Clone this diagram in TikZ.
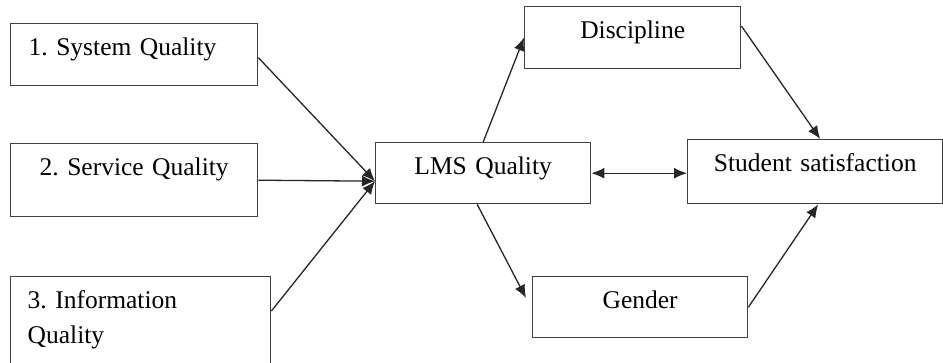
\documentclass[tikz,border=0pt]{standalone}
\usepackage{fontspec}
\setmainfont{Liberation Serif}
\usetikzlibrary{arrows.meta}
\frenchspacing

\begin{document}
\begin{tikzpicture}[x=1pt, y=-1pt,
    >={Latex[length=13pt,width=11pt]},
    every node/.style={rectangle, draw=black!75, line width=1.4pt, anchor=north west,
      inner xsep=0pt, inner ysep=0pt, text height=32pt,
      font=\fontsize{25.5}{35}\selectfont},
    link/.style={->, line width=1.3pt, draw=black!85},
    twoway/.style={<->, line width=1.3pt, draw=black!85}]
  \useasboundingbox (0,0) rectangle (943,362);
  \clip (0,0) rectangle (943,362);
  \node (sys) [text width=211pt, inner xsep=18pt, text depth=30pt, align=left] at (10,23) {1. System Quality};
  \node (serv) [text width=247pt, text depth=41pt, align=center] at (10,143) {2. Service Quality};
  \node (info) [text width=226pt, inner xsep=17pt, text depth=78pt, align=left] at (10,276) {3. Information\\Quality};
  \node (lms) [text width=215pt, text depth=29pt, align=center] at (375,142) {LMS Quality};
  \node (disc) [text width=216pt, text depth=30pt, align=center] at (524,6) {Discipline};
  \node (sat) [text width=255pt, text depth=32pt, align=center] at (687,139) {Student satisfaction};
  \node (gen) [text width=215pt, text depth=29pt, align=center] at (532,276) {Gender};
  \coordinate (hub) at ([yshift=-8pt]lms.west);
  \draw [link] ([yshift=-3pt]sys.east) -- (hub);
  \draw [link] (serv.east) -- (hub);
  \draw [link] ([yshift=-35pt]info.north east) -- (hub);
  \draw [link] (lms.north) -- (disc.west);
  \draw [link] ([xshift=-6pt]lms.south) -- ([xshift=-6pt,yshift=-22pt]gen.north west);
  \draw [twoway] (lms.east) -- (lms.east -| sat.west);
  \draw [link] ([yshift=-20pt]disc.north east) -- ([xshift=5pt]sat.north);
  \draw [link] (gen.east) -- ([xshift=3pt]sat.south);
\end{tikzpicture}
\end{document}
